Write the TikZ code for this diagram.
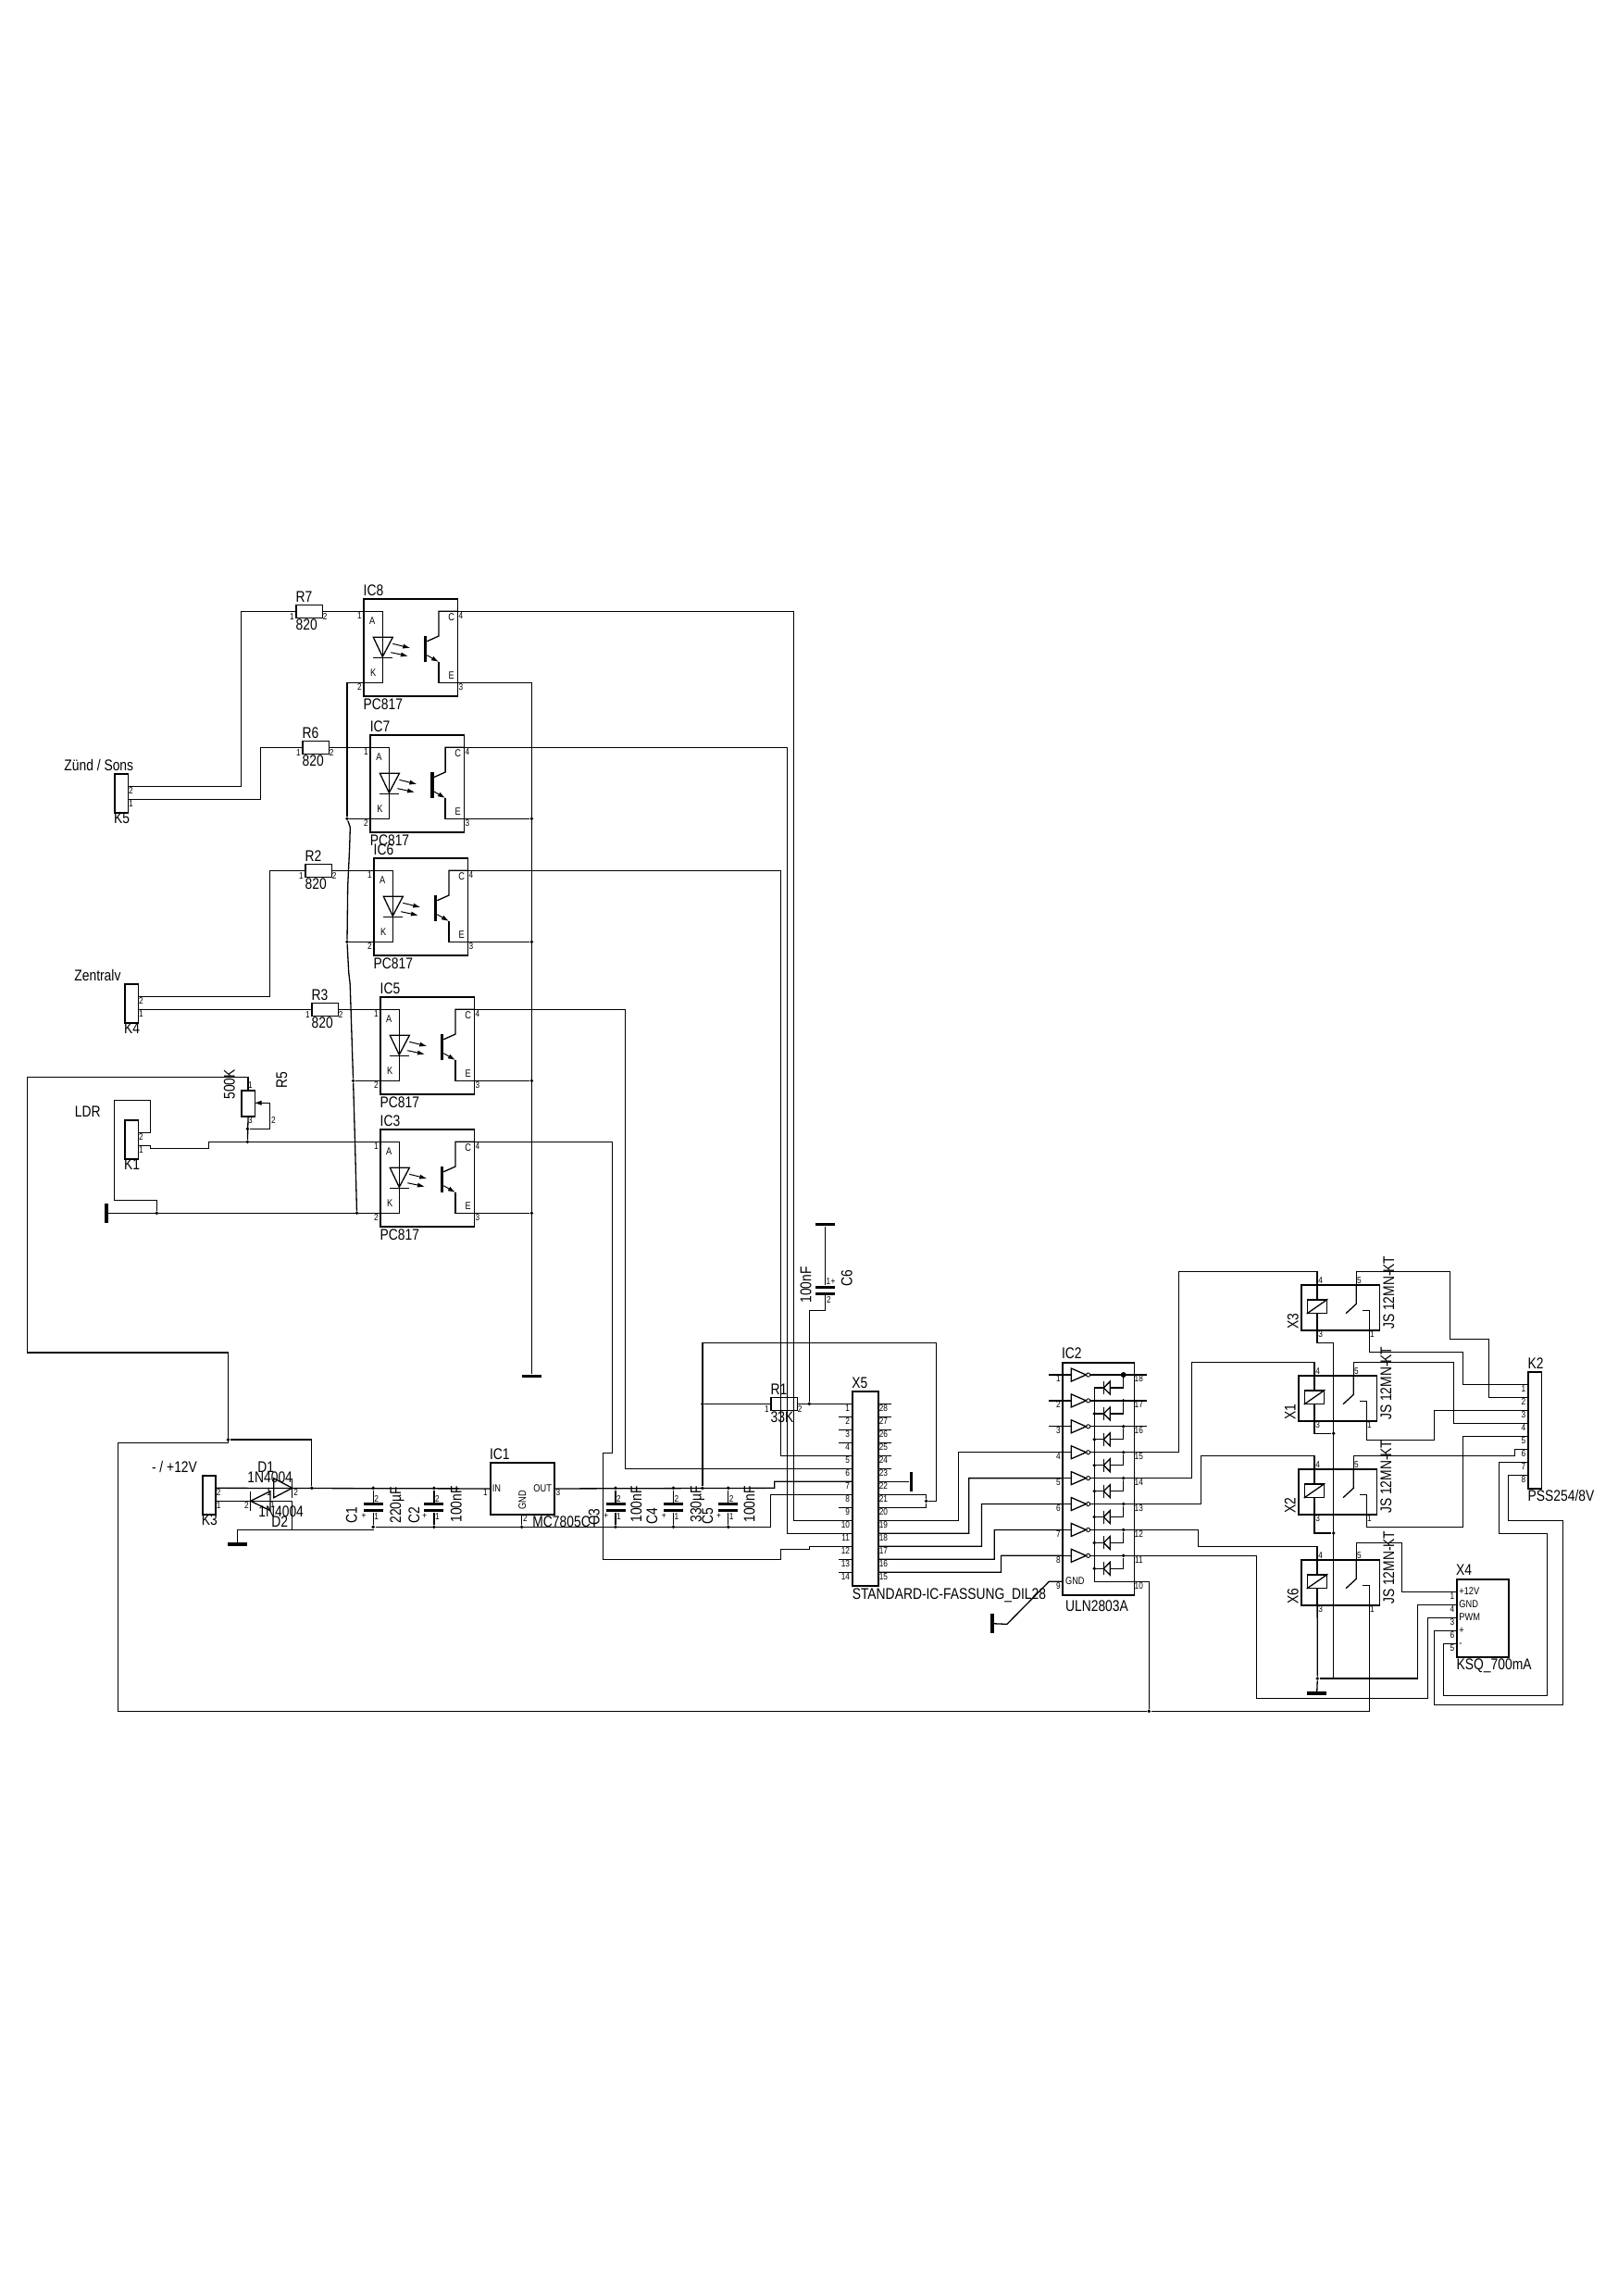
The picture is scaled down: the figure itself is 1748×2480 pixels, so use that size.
\documentclass[tikz,border=0pt]{standalone}
\usepackage{fontspec}
\setmainfont{Liberation Sans}[FakeStretch=0.825]
\usetikzlibrary{arrows.meta}

\tikzset{
  wire/.style={line width=0.65pt},
  tip/.style={line width=0.5pt, -{Latex[length=4pt,width=2.6pt]}},
  part/.style={rectangle, draw, line width=0.65pt, inner sep=0pt, anchor=north west},
  solid bar/.style={rectangle, fill=black, inner sep=0pt},
  plate/.style={solid bar, minimum width=10.5pt, minimum height=1.5pt},
  gndh/.style={solid bar, minimum width=10.5pt, minimum height=1.8pt},
  gndv/.style={solid bar, minimum width=1.8pt, minimum height=10.5pt},
  dot/.style={circle, fill=black, inner sep=0pt, minimum size=1.9pt},
  lbl/.style={inner sep=0pt, anchor=base west, font=\fontsize{8.4pt}{10pt}\selectfont},
  vlbl/.style={lbl, rotate=90},
  letter/.style={inner sep=0pt, font=\fontsize{5.6pt}{6pt}\selectfont},
  pinno/.style={inner sep=0pt, font=\fontsize{5pt}{5pt}\selectfont},
}

\newcounter{pn}
\newcommand{\pinlabel}[4][]{\stepcounter{pn}\node[pinno,#1] (pn\arabic{pn}) at (#2,#3) {#4};}
\newcommand{\txt}[4]{\node[lbl] (#1) at (#2,#3) {#4};}
\newcommand{\vtxt}[4]{\node[vlbl] (#1) at (#2,#3) {#4};}

% optocoupler: name, x, y, label
\newcommand{\optocoupler}[4]{
  \node[part, minimum width=50.85pt, minimum height=52.5pt] (#1) at (#2,#3) {};
  \begin{scope}[shift={(#2,#3)}]
    \coordinate (#1-a) at (0,14);
    \coordinate (#1-k) at (0,91);
    \coordinate (#1-c) at (101.7,14);
    \coordinate (#1-e) at (101.7,91);
    \draw[wire] (#1-a) -- (21,14) -- (21,91) -- (#1-k);
    \draw[wire] (11,42) -- (32,42) -- (21,63) -- cycle;
    \draw[wire] (11,64) -- (32,64);
    \draw[tip] (32,49) -- (51,53.7);
    \draw[tip] (30,58.4) -- (48.7,62.4);
    \node[solid bar, minimum width=1.9pt, minimum height=14pt] (#1-bar) at (67.2,54.7) {};
    \draw[wire] (#1-c) -- (81.7,14) -- (81.7,40.7) -- (69,46.4);
    \draw[wire] (#1-e) -- (81.7,91) -- (81.7,68.7);
    \draw[tip] (69,61.4) -- (81.7,68.7);
    \node[letter] (#1-la) at (10,24.4) {A};
    \node[letter] (#1-lk) at (11,80.4) {K};
    \node[letter] (#1-lc) at (95.3,20.4) {C};
    \node[letter] (#1-le) at (95.3,83.4) {E};
    \node[lbl] (#1-name) at (0,-3) {#4};
    \node[lbl] (#1-type) at (0,119.7) {PC817};
    \pinlabel{-4}{18.7}{1}
    \pinlabel{-4}{96}{2}
    \pinlabel{105.5}{18.7}{4}
    \pinlabel{105.5}{96}{3}
  \end{scope}
}

% resistor: name, x, y centre, label, value
\newcommand{\resistor}[5]{
  \node[part, minimum width=14.2pt, minimum height=7pt, anchor=west] (#1) at (#2,#3) {};
  \begin{scope}[shift={(#2,#3)}]
    \node[lbl] (#1-name) at (0,-10) {#4};
    \node[lbl] (#1-val) at (0,20.5) {#5};
    \pinlabel{-4}{5.4}{1}
    \pinlabel{31.8}{5.4}{2}
  \end{scope}
}

% two pin connector: name, x, y, label, label baseline below the box
\newcommand{\twopin}[4]{
  \node[part, minimum width=7.1pt, minimum height=21pt] (#1) at (#2,#3) {};
  \begin{scope}[shift={(#2,#3)}]
    \coordinate (#1-2) at (14.2,14);
    \coordinate (#1-1) at (14.2,28);
    \node[lbl] (#1-name) at (-0.7,54.5) {#4};
    \pinlabel{18}{19}{2}
    \pinlabel{18}{33}{1}
  \end{scope}
}

% capacitor with plates: name, x, top y, bottom y, plate y
\newcommand{\capa}[5]{
  \node[plate] (#1-p2) at (#2,#5) {};
  \node[plate] (#1-p1) at (#2,#5+7.2) {};
  \node[dot] (#1-t) at (#2,#3) {};
  \node[dot] (#1-b) at (#2,#4) {};
  \draw[wire] (#1-t) -- (#1-p2);
  \draw[wire] (#1-p1) -- (#1-b);
  \pinlabel{#2+3.4}{#3+11.7}{2}
  \pinlabel{#2+3.4}{#3+30.4}{1}
  \pinlabel{#2-10.2}{#3+30.7}{+}
}

% relay: name, x, y, label
\newcommand{\relay}[4]{
  \node[part, minimum width=42.2pt, minimum height=24.5pt] (#1) at (#2,#3) {};
  \begin{scope}[shift={(#2,#3)}]
    \coordinate (#1-4) at (17.8,0);
    \coordinate (#1-3) at (17.8,49);
    \coordinate (#1-5) at (60,0);
    \coordinate (#1-1) at (74.4,49);
    \node[rectangle, draw, line width=0.65pt, inner sep=0pt, minimum width=10.7pt, minimum height=7.2pt] (#1-coil) at (17.8,23.8) {};
    \draw[wire] (#1-coil.south west) -- (#1-coil.north east);
    \draw[wire] (#1-4) -- (#1-coil.north);
    \draw[wire] (#1-coil.south) -- (#1-3);
    \draw[wire] (#1-5) -- (60,21) -- (48.7,31.4);
    \draw[wire] (67,28) -- (74.4,28) -- (#1-1);
    \node[vlbl] (#1-name) at (-2.6,49) {#4};
    \node[vlbl] (#1-type) at (100.7,49) {JS 12MN-KT};
    \pinlabel{21.4}{-4.3}{4}
    \pinlabel{63}{-4.3}{5}
    \pinlabel{21.4}{53.3}{3}
    \pinlabel{77}{53.3}{1}
  \end{scope}
}

\begin{document}
\begin{tikzpicture}[x=0.5pt, y=-0.5pt]
  \useasboundingbox (0,0) rectangle (1748,2480);

  % optocouplers
  \optocoupler{ic8}{392.3}{646.3}{IC8}
  \optocoupler{ic7}{399.4}{793.3}{IC7}
  \optocoupler{ic6}{403.3}{926.3}{IC6}
  \optocoupler{ic5}{410.3}{1076.3}{IC5}
  \optocoupler{ic3}{410.3}{1219.3}{IC3}

  % resistors
  \resistor{r7}{319.3}{660.3}{R7}{820}
  \resistor{r6}{326.3}{807.3}{R6}{820}
  \resistor{r2}{329.3}{940.3}{R2}{820}
  \resistor{r3}{336.3}{1090.3}{R3}{820}
  \resistor{r1}{832.3}{1516.3}{R1}{33K}

  % connectors on the left
  \twopin{k5}{123.4}{835.3}{K5}
  \twopin{k4}{134.4}{1062.3}{K4}
  \twopin{k1}{134.4}{1209.3}{K1}
  \twopin{k3}{218.2}{1593.3}{K3}
  \txt{tzuend}{69}{832.7}{Zünd / Sons}
  \txt{tzentral}{80}{1059}{Zentralv}
  \txt{tldr}{80.5}{1206}{LDR}
  \txt{tvolt}{163.6}{1590.7}{- / +12V}

  % trimmer
  \node[part, minimum width=7.1pt, minimum height=14pt] (r5) at (260.3,1177.3) {};
  \vtxt{r5val}{253.5}{1188}{500K}
  \vtxt{r5name}{310}{1176}{R5}
  \pinlabel{270.5}{1172}{1}
  \pinlabel{270.5}{1210}{3}
  \pinlabel{295.5}{1210}{2}
  \node[dot] (jr5a) at (267.4,1219.3) {};
  \node[dot] (jr5b) at (267.4,1233.3) {};

  % grounds
  \node[gndv] (gndldr) at (115,1310.3) {};
  \node[gndh] (gndin) at (256.5,1668) {};
  \node[gndh] (gndopto) at (574.4,1486.5) {};
  \node[gndh] (gndcap) at (891.5,1322.3) {};
  \node[gndv] (gndx5) at (984.3,1600.3) {};
  \node[gndv] (gndic2) at (1072,1753.7) {};
  \node[gndh] (gndrel) at (1422.7,1829) {};

  % supply: diodes, regulator, capacitors
  \draw[wire] (295.7,1596.7) -- (315.7,1607.3) -- (295.7,1617.7) -- cycle;
  \draw[wire] (315.7,1596.7) -- (315.7,1617.7);
  \draw[wire] (292,1610.7) -- (270.7,1621.3) -- (292,1631.7) -- cycle;
  \draw[wire] (270.7,1610.7) -- (270.7,1631.7);
  \txt{d1name}{278}{1590}{D1}
  \txt{d1type}{267}{1601.7}{1N4004}
  \txt{d2type}{279}{1638}{1N4004}
  \txt{d2name}{293}{1649}{D2}
  \pinlabel{290.4}{1611.7}{1}
  \pinlabel{319.6}{1612.3}{2}
  \pinlabel{266.4}{1626}{2}
  \pinlabel{294.6}{1625.5}{1}

  \node[part, minimum width=34.45pt, minimum height=28pt] (ic1) at (529.3,1579.3) {};
  \coordinate (ic1-gnd) at (563.6,1635.3);
  \node[letter, anchor=base west] (ic1in) at (531.4,1611) {IN};
  \node[letter, anchor=base west] (ic1out) at (576,1611) {OUT};
  \node[letter, anchor=base west, rotate=90] (ic1gnd) at (568,1631) {GND};
  \txt{ic1name}{528.6}{1576.6}{IC1}
  \txt{ic1type}{575}{1649}{MC7805CT}
  \pinlabel{524.3}{1612.3}{1}
  \pinlabel{603}{1612.3}{3}
  \pinlabel{567.5}{1640}{2}
  \node[dot] (jgnd1) at (563.6,1649.3) {};

  \capa{c1}{403.2}{1607.3}{1649.3}{1624.5}
  \capa{c2}{468.9}{1607.3}{1649.3}{1624.5}
  \capa{c3}{665}{1607.3}{1649.3}{1624.5}
  \capa{c4}{727.5}{1607.3}{1649.3}{1624.5}
  \capa{c5}{786.8}{1607.3}{1649.3}{1624.5}
  \vtxt{c1name}{385.7}{1646}{C1}
  \vtxt{c1val}{433}{1646}{220µF}
  \vtxt{c2name}{453}{1646}{C2}
  \vtxt{c2val}{498.6}{1645}{100nF}
  \vtxt{c3name}{647.5}{1648}{C3}
  \vtxt{c3val}{693}{1645}{100nF}
  \vtxt{c4name}{710}{1647}{C4}
  \vtxt{c4val}{757.5}{1645}{330µF}
  \vtxt{c5name}{770}{1647}{C5}
  \vtxt{c5val}{815.4}{1645}{100nF}

  \node[plate] (c6-p1) at (891.5,1390.3) {};
  \node[plate] (c6-p2) at (891.5,1397.5) {};
  \vtxt{c6name}{920.7}{1390}{C6}
  \vtxt{c6val}{876.4}{1408}{100nF}
  \pinlabel{895}{1384.5}{1}
  \pinlabel{900}{1384.5}{+}
  \pinlabel{895.5}{1404}{2}

  % socket X5
  \node[part, minimum width=13.9pt, minimum height=105pt] (x5) at (920.4,1502.3) {};
  \txt{x5name}{920}{1499}{X5}
  \txt{x5type}{920.4}{1727}{STANDARD-IC-FASSUNG\_DIL28}
  \foreach \i in {1,...,14}{
    \pgfmathsetmacro{\py}{1516.3+14*(\i-1)}
    \pgfmathtruncatemacro{\opin}{29-\i}
    \coordinate (x5-\i) at (920.4,\py);
    \coordinate (x5-\opin) at (948.2,\py);
    \draw[wire] (906.4,\py) -- (x5-\i);
    \draw[wire] (x5-\opin) -- (962.9,\py);
    \pinlabel[anchor=east]{918.4}{\py+4.8}{\i}
    \pinlabel[anchor=west]{949.4}{\py+4.8}{\opin}
  }

  % driver IC2
  \node[part, minimum width=38.7pt, minimum height=125.5pt] (ic2) at (1147.3,1471.3) {};
  \txt{ic2name}{1146.7}{1467}{IC2}
  \txt{ic2type}{1150.7}{1740}{ULN2803A}
  \node[letter, anchor=base west] (ic2gnd) at (1150.7,1711.7) {GND};
  \coordinate (ic2-9) at (1147.3,1708.3);
  \coordinate (ic2-10) at (1224.7,1708.3);
  \pinlabel{1143.3}{1712.7}{9}
  \pinlabel{1230.3}{1712.7}{10}
  \foreach \i in {1,...,8}{
    \pgfmathsetmacro{\py}{1485+27.9*(\i-1)}
    \pgfmathsetmacro{\dy}{\py+14}
    \pgfmathtruncatemacro{\opin}{19-\i}
    \coordinate (ic2-\i) at (1147.3,\py);
    \coordinate (ic2-\opin) at (1224.7,\py);
    \draw[wire] (ic2-\i) -- (1157.3,\py);
    \draw[wire] (1157.3,\py-7) -- (1173.3,\py) -- (1157.3,\py+7) -- cycle;
    \node[circle, draw, line width=0.45pt, inner sep=0pt, minimum size=2.1pt] (ic2-inv\i) at (1175.6,\py) {};
    \draw[wire] (ic2-inv\i) -- (ic2-\opin);
    \node[dot] (ic2-j\i) at (1213.7,\py) {};
    \draw[wire] (ic2-j\i) -- (1213.7,\dy) -- (1182.3,\dy);
    \draw[wire, fill=white] (1199.3,\dy-7) -- (1192.3,\dy) -- (1199.3,\dy+7) -- cycle;
    \draw[wire] (1192.3,\dy-7) -- (1192.3,\dy+7);
    \ifnum\i>1 \node[dot] (ic2-r\i) at (1182.3,\dy) {}; \fi
    \pinlabel{1143.3}{\py+4.3}{\i}
    \pinlabel{1230.3}{\py+4.3}{\opin}
  }
  \foreach \i/\opin in {1/18,2/17,3/16}{
    \draw[wire] (1133.3,0 |- ic2-\i) -- (ic2-\i);
    \draw[wire] (ic2-\opin) -- (1239,0 |- ic2-\opin);
  }
  \node[dot, minimum size=3pt] (ic2-j0) at (1213.7,1485) {};

  % relays
  \relay{x3}{1405.3}{1387.3}{X3}
  \relay{x1}{1402.3}{1485.3}{X1}
  \relay{x2}{1402.3}{1586.3}{X2}
  \relay{x6}{1405.3}{1684.3}{X6}

  % connector K2 and module X4
  \node[part, minimum width=7.2pt, minimum height=63pt] (k2) at (1650.3,1481.3) {};
  \txt{k2name}{1650.3}{1478}{K2}
  \txt{k2type}{1650.3}{1621.7}{PSS254/8V}
  \foreach \i in {1,...,8}{
    \pgfmathsetmacro{\py}{1495.3+14*(\i-1)}
    \coordinate (k2-\i) at (1650.3,\py);
    \pinlabel{1646}{\py+4.7}{\i}
  }
  \node[part, minimum width=28pt, minimum height=42pt] (x4) at (1573.3,1705.3) {};
  \txt{x4name}{1572.7}{1701.7}{X4}
  \txt{x4type}{1573.3}{1803}{KSQ\_700mA}
  \foreach \p/\py/\ptxt in {1/1719.3/+12V,4/1733.3/GND,3/1747.3/PWM,6/1761.3/+,5/1775.3/-}{
    \coordinate (x4-\p) at (1573.3,\py);
    \pinlabel{1569}{\py+4.5}{\p}
    \node[letter, anchor=base west] (x4-t\p) at (1576,\py+3.4) {\ptxt};
  }

  % wires of the inputs
  \draw[wire] (k5-2) -| (260.3,660.3) -- (r7.west);
  \draw[wire] (k5-1) -| (281.3,807.3) -- (r6.west);
  \draw[wire] (k4-2) -| (291.5,940.3) -- (r2.west);
  \draw[wire] (k4-1) -- (r3.west);
  \draw[wire] (r7.east) -- (ic8-a);
  \draw[wire] (r6.east) -- (ic7-a);
  \draw[wire] (r2.east) -- (ic6-a);
  \draw[wire] (r3.east) -- (ic5-a);

  % common of the LEDs
  \node[dot] (jk7) at (375,884.3) {};
  \node[dot] (jk6) at (375,1017.3) {};
  \node[dot] (jk5) at (381.6,1167.3) {};
  \node[dot] (jk3) at (385.5,1310.3) {};
  \draw[wire] (ic8-k) -| (jk7);
  \draw[wire] (jk7) -- (378.3,893.3) -- (377.7,915) -- (375.7,957) -- (jk6) -- (376.7,1050) -- (378.2,1063) -- (jk5) -- (383.6,1236.7) -- (jk3);
  \draw[wire] (jk7) -- (ic7-k);
  \draw[wire] (jk6) -- (ic6-k);
  \draw[wire] (jk5) -- (ic5-k);
  \draw[wire] (gndldr) -- (ic3-k);

  % common of the emitters
  \draw[wire] (ic8-e) -| (gndopto);
  \foreach \n in {ic7,ic6,ic5,ic3}{
    \node[dot] (je-\n) at (574.4,0 |- \n-e) {};
    \draw[wire] (\n-e) -- (je-\n);
  }

  % collectors to the socket
  \draw[wire] (ic8-c) -| (857.5,1642.3) -- (x5-10);
  \draw[wire] (ic7-c) -| (850.4,1656.3) -- (x5-11);
  \draw[wire] (ic6-c) -| (843.4,1572.3) -- (x5-5);
  \draw[wire] (ic5-c) -| (675.6,1586.3) -- (x5-6);
  \draw[wire] (ic3-c) -| (661.8,1569.3) -| (651.5,1684.3) -| (843.6,1673.3) -| (874.3,1670.3) -- (x5-12);

  % LDR and trimmer
  \node[dot] (jldr) at (169.3,1310.3) {};
  \draw[wire] (k1-2) -| (162.7,1188.3) -| (123.3,1296.3) -| (jldr);
  \draw[wire] (k1-1) -- (162.7,1237.3) -- (162.7,1240.3) -| (225.5,1233.3) -- (ic3-a);
  \draw[wire] (r5.south) -- (jr5b);
  \draw[wire] (jr5a) -| (291.7,1191.3);
  \draw[tip] (291.7,1191.3) -- (274.5,1191.3);
  \node[dot] (jsup) at (246.4,1555) {};
  \node[dot] (jd1) at (336.8,1607.3) {};
  \node[dot] (jgnd2) at (1241.3,1848.3) {};
  \draw[wire] (r5.north) |- (29.6,1163.3) |- (246.4,1461) -- (246.4,1558.3) -| (127.5,1848.3) -- (jgnd2);
  \draw[wire] (jsup) -| (jd1);

  % supply rails
  \node[dot] (jrail) at (758.9,1607.3) {};
  \node[dot] (jr1) at (758.9,1516.3) {};
  \node[dot] (jx5) at (1000.7,1621.3) {};
  \node[dot] (jc6) at (874.3,1516.3) {};
  \draw[wire] (k3-2) -- (ic1.west);
  \draw[wire] (k3-1) -| (315.7,1652.3);
  \draw[wire] (ic1.east) -- (836.8,1607.3) |- (x5-7);
  \draw[wire] (gndin) |- (403.2,1652.3) -- (c1-b);
  \draw[wire] (c1-b) -- (832.5,1649.3) |- (x5-8);
  \draw[wire] (ic1-gnd) -- (jgnd1);
  \draw[wire] (jrail) -- (758.9,1450.3) -| (1011.8,1621.3) -- (jx5);
  \draw[wire] (jr1) -- (r1.west);
  \draw[wire] (r1.east) -- (x5-1);
  \draw[wire] (x5-21) -| (jx5) |- (x5-20);
  \draw[wire] (x5-22) -- (gndx5);
  \draw[wire] (gndcap) -- (c6-p1);
  \draw[wire] (c6-p2) |- (874.3,1415.3) -- (jc6);

  % socket to IC2
  \draw[wire] (x5-19) -| (1035.4,1568.7) -- (ic2-4);
  \draw[wire] (x5-18) -| (1046.8,1596.6) -- (ic2-5);
  \draw[wire] (x5-17) -| (1060.4,1624.5) -- (ic2-6);
  \draw[wire] (x5-16) -| (1074.3,1652.4) -- (ic2-7);
  \draw[wire] (x5-15) -| (1081.4,1680.3) -- (ic2-8);
  \draw[wire] (ic2-9) -- (1133.3,1708.3) -- (1087.9,1754.3) -- (gndic2);
  \draw[wire] (1182.3,1499) -- (1182.3,1708.3) -- (1241.3,1708.3) -- (jgnd2);

  % IC2 to the relays
  \draw[wire] (ic2-15) -| (1273.3,1373.3) -| (x3-4);
  \draw[wire] (ic2-14) -| (1287.3,1471.3) -| (x1-4);
  \draw[wire] (ic2-13) -| (1297.3,1572.3) -| (x2-4);
  \draw[wire] (ic2-12) -| (1294.3,1670.3) -| (x6-4);
  \draw[wire] (ic2-11) -| (1357.3,1834.3) -| (1542.7,1747.3) -- (x4-3);

  % relay contacts
  \draw[wire] (x3-5) |- (1566.3,1373.3) |- (1608.7,1446.3) |- (k2-2);
  \draw[wire] (x3-1) |- (1580.7,1460.3) |- (k2-1);
  \draw[wire] (x1-5) |- (1570.7,1471.3) |- (k2-4);
  \draw[wire] (x1-1) |- (1549.3,1555.3) |- (k2-3);
  \draw[wire] (x2-5) |- (1636.7,1572.3) |- (k2-6);
  \draw[wire] (x2-1) |- (1580.7,1649.3) |- (k2-5);
  \draw[wire] (x6-5) |- (1514.3,1666.7) |- (x4-1);
  \draw[wire] (x6-1) |- (jgnd2);

  % relay ground rail
  \node[dot] (jx1) at (1440.7,1548.3) {};
  \node[dot] (jx2) at (1440.7,1656) {};
  \node[dot] (jx6) at (1423.3,1813) {};
  \coordinate (railbot) at (1440.7,1813);
  \draw[wire] (x3-3) |- (1440.7,1450.3) -- (railbot);
  \draw[wire] (x1-3) |- (jx1);
  \draw[wire] (x2-3) |- (jx2);
  \draw[wire] (x6-3) -- (jx6) -- (gndrel);
  \draw[wire] (jx6) -- (railbot) -| (1531.7,1733.3) -- (x4-4);

  % K2 to X4
  \draw[wire] (k2-7) -| (1619.3,1656.3) -| (1671.7,1831.3) -| (1559.3,1775.3) -- (x4-5);
  \draw[wire] (k2-8) -| (1629.3,1642.3) -| (1688.3,1841.3) -| (1549.3,1761.3) -- (x4-6);
\end{tikzpicture}
\end{document}
